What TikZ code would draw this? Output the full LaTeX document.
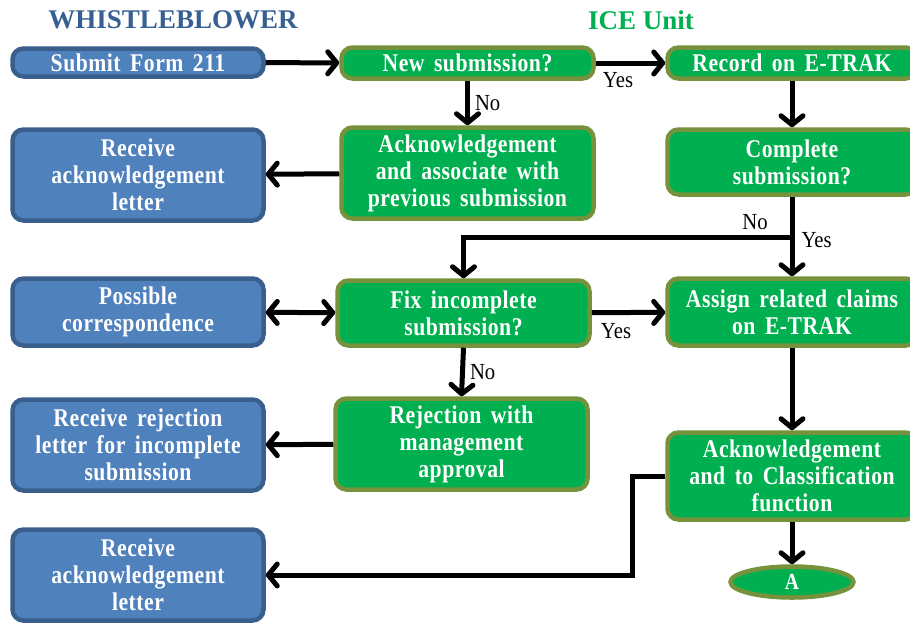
\documentclass[tikz,border=0pt]{standalone}
\usepackage{fontspec}
\setmainfont{Liberation Serif}
\newfontfamily\boxfont[FakeStretch=0.85,LetterSpace=2,WordSpace=1.6]{Liberation Serif}
\newfontfamily\lblfont[FakeStretch=0.9]{Liberation Serif}
\usetikzlibrary{arrows.meta,shapes.geometric}
\definecolor{bfill}{HTML}{4F81BD}
\definecolor{bdraw}{HTML}{3A5F8C}
\definecolor{gfill}{HTML}{00B050}
\definecolor{gdraw}{HTML}{76923C}
\definecolor{titleblue}{HTML}{376092}
\begin{document}
\begin{tikzpicture}[x=1pt,y=-1pt,
  base/.style={rounded corners=11pt, align=center, text=white, font=\boxfont\bfseries\fontsize{25.5}{27}\selectfont, inner sep=0pt, line width=4.5pt},
  wb/.style={base, fill=bfill, draw=bdraw, minimum width=251pt},
  gb/.style={base, fill=gfill, draw=gdraw, minimum width=252pt},
  arr/.style={line width=5pt, -{Straight Barb[round,length=9pt,width=22pt]}},
  darr/.style={line width=5pt, {Straight Barb[round,length=9pt,width=22pt]}-{Straight Barb[round,length=9pt,width=22pt]}},
  lbl/.style={font=\lblfont\fontsize{23}{25}\selectfont, inner sep=0pt},
  ttl/.style={font=\bfseries\fontsize{27}{29}\selectfont, inner sep=0pt}]
\useasboundingbox (0,0) rectangle (910,622);
\node[ttl, text=titleblue] (t1) at (173,20) {WHISTLEBLOWER};
\node[ttl, text=gfill] (t2) at (641,20) {ICE Unit};

\node[wb, minimum height=28pt] (sub) at (138,62.5) {Submit Form 211};
\node[gb, minimum height=31pt] (new) at (467.5,63) {New submission?};
\node[gb, minimum height=31pt, minimum width=249pt] (rec) at (792,63) {Record on E-TRAK};

\node[wb, minimum height=91pt] (rcv1) at (138,175) {Receive\\acknowledgement\\letter};
\node[gb, minimum height=91pt] (assoc) at (467.5,173) {Acknowledgement\\and associate with\\previous submission};
\node[gb, minimum height=65pt, minimum width=249pt] (comp) at (792,162) {Complete\\submission?};

\node[wb, minimum height=67pt] (poss) at (138,312) {Possible\\correspondence};
\node[gb, minimum height=65pt] (fix) at (463.5,313) {Fix incomplete\\submission?};
\node[gb, minimum height=67pt, minimum width=249pt] (assign) at (792,312) {Assign related claims\\on E-TRAK};

\node[wb, minimum height=91pt] (rrej) at (138,445) {Receive rejection\\letter for incomplete\\submission};
\node[gb, minimum height=91pt] (rej) at (461.5,444) {Rejection with\\management\\approval};
\node[gb, minimum height=87pt, minimum width=249pt] (cls) at (792,476) {Acknowledgement\\and to Classification\\function};

\node[wb, minimum height=91pt] (rcv2) at (138,575) {Receive\\acknowledgement\\letter};
\node[ellipse, draw=gdraw, fill=gfill, line width=4.5pt, minimum width=123pt, minimum height=31pt, inner sep=0pt, text=white, font=\boxfont\bfseries\fontsize{23}{24}\selectfont] (A) at (792,582) {A};

\draw[arr] (sub) -- (new);
\draw[arr] (new) -- (rec) node[lbl, pos=0.32, below=7pt] {Yes};
\draw[arr] (new.south) -- (assoc.north) node[lbl, midway, right=5pt] {No};
\draw[arr] (rec) -- (comp);
\draw[arr] (assoc) -- (rcv1);
\coordinate (br) at (792,237);
\draw[arr] (comp) -- (assign) node[lbl, pos=0.55, right=7pt] {Yes};
\draw[arr] (br) -| (fix.north);
\node[lbl] (no1) at (755,222) {No};
\draw[darr] (poss) -- (fix);
\draw[arr] (fix) -- (assign) node[lbl, pos=0.33, below=8pt] {Yes};
\draw[arr] (fix.south) -- (rej.north) node[lbl, midway, right=5pt] {No};
\draw[arr] (rej) -- (rrej);
\draw[arr] (assign) -- (cls);
\draw[arr] (cls) -- (A);
\draw[arr] (cls.west) -- ++(-33,0) |- (rcv2.east);
\end{tikzpicture}
\end{document}
